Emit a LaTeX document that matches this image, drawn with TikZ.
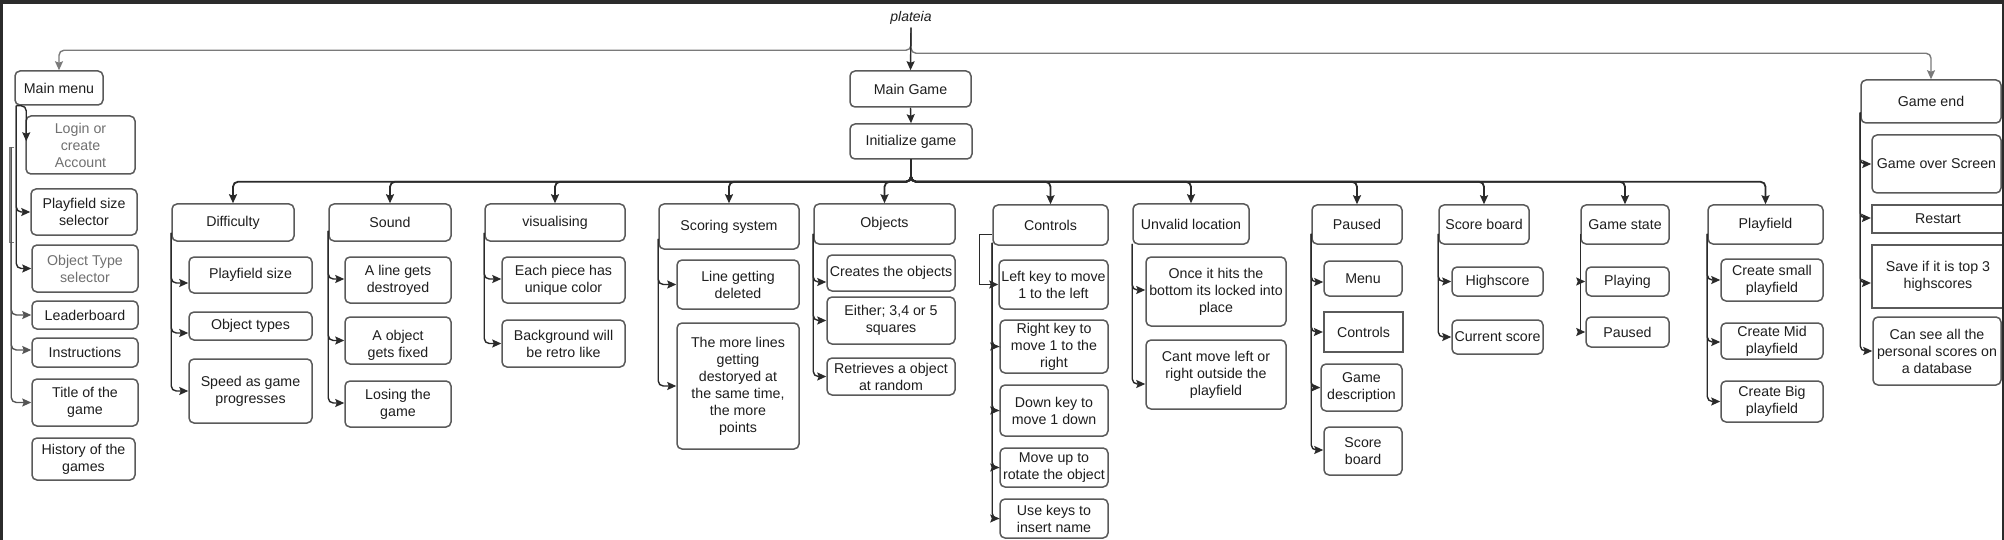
\documentclass[tikz,border=0pt]{standalone}
\usepackage{fontspec}
\setmainfont{Liberation Sans}
\usetikzlibrary{arrows.meta,calc}
\definecolor{boxc}{HTML}{5A5A5A}
\definecolor{linec}{HTML}{2A2A2A}
\definecolor{toplc}{HTML}{7A7A7A}
\definecolor{txt}{HTML}{1E1E1E}
\definecolor{lighttxt}{HTML}{707070}
\definecolor{framec}{HTML}{2B2B2B}
\newcommand{\dfont}{\fontsize{14.2pt}{17pt}\selectfont}
\begin{document}
\begin{tikzpicture}[x=1pt,y=-1pt,
  box/.style={draw=boxc, line width=1.5pt, rounded corners=5pt, inner sep=0pt, align=center, font=\dfont, text=txt, fill=white},
  sbox/.style={box, rounded corners=0pt, line width=2.2pt},
  wh/.style 2 args={minimum width=#1, minimum height=#2},
  gtxt/.style={text=lighttxt},
  conn/.style={draw=linec, line width=1.4pt, rounded corners=5pt, -{Stealth[length=9pt,width=8pt,inset=1.5pt]}},
  topconn/.style={conn, draw=toplc},
  busconn/.style={conn, line width=1.8pt},
  sharpconn/.style={conn, rounded corners=0pt},
]
\useasboundingbox (0,0) rectangle (2004,540);
\fill[white] (0,0) rectangle (2004,540);

% ---------- top level ----------
\node[inner sep=0pt, font=\fontsize{14pt}{16pt}\selectfont\itshape, text=txt] (plat) at (911,18) {plateia};
\node[box, wh={121}{36}] (mg) at (910.5,89) {Main Game};
\node[box, wh={122}{35}] (init) at (911,141.5) {Initialize game};
\node[box, wh={88}{34}] (mm) at (59,88) {Main menu};
\node[box, wh={140}{43}] (ge) at (1931,101.5) {Game end};
\coordinate (ptop) at ($(plat.south)+(0,3)$);
\coordinate (bus) at ($(init.south)+(0,22)$);

\draw[topconn] (ptop) |- ($(mm.north)+(0,-20)$) -- (mm.north);
\draw[topconn] (ptop) |- ($(ge.north)+(0,-26)$) -- (ge.north);
\draw[conn] (ptop) -- (mg.north);
\draw[conn] (mg.south) -- (init.north);

% ---------- main menu column ----------
\node[box, wh={109}{58}, gtxt] (login) at (80.5,145) {Login or\\create\\Account};
\node[box, wh={106}{46}] (pss) at (84,212) {Playfield size\\selector};
\node[box, wh={106}{47}, gtxt] (ots) at (85,268.5) {Object Type\\selector};
\node[box, wh={106}{28}] (lb) at (85,315) {Leaderboard};
\node[box, wh={106}{29}] (ins) at (85,352.5) {\raisebox{-6pt}{Instructions}};
\node[box, wh={106}{47}] (tog) at (85,402.5) {Title of the\\game};
\node[box, wh={103}{42}] (hist) at (83.5,459) {History of the\\games};
\coordinate (mmt) at ($(mm.south west)+(2,0)$);
\coordinate (mmj) at ($(mm.south west)+(-3,42)$);
\draw[line width=0.6pt, draw=toplc] ($(mmj)+(3,0)$) -- ++(-5,0) -- ++(0,95) -- ++(5,0);
\draw[conn] (mmt) -| ($(login.north west)+(1,26)$);
\draw[conn] (mmt) |- (pss.west);
\draw[conn] (mmt) |- (ots.west);
\draw[conn, draw=linec!80] (mmj) |- (lb.west);
\draw[conn, draw=linec!80] (mmj) |- ($(ins.west)+(0,-2.5)$);
\draw[conn, draw=linec!80] (mmj) |- (tog.west);

% ---------- heads ----------
\node[box, wh={122}{37}] (diff) at (233,222.5) {Difficulty};
\node[box, wh={122}{37}] (snd) at (390,222.5) {Sound};
\node[box, wh={140}{37}] (vis) at (555,222.5) {visualising};
\node[box, wh={140}{45}] (scr) at (729,226.5) {Scoring system};
\node[box, wh={141}{40}] (obj) at (884.5,224) {Objects};
\node[box, wh={115}{40}] (ctl) at (1050.5,225) {Controls};
\node[box, wh={116}{40}] (unv) at (1191,224) {Unvalid location};
\node[box, wh={90}{39}] (pau) at (1357,224.5) {Paused};
\node[box, wh={90}{39}] (sb) at (1484,224.5) {Score board};
\node[box, wh={88}{39}] (gs) at (1625,224.5) {Game state};
\node[box, wh={115}{39}] (pf) at (1765.5,224.5) {Playfield};

\foreach \h in {diff,snd,vis,scr,obj,ctl,unv,pau,sb,gs,pf}
  \draw[busconn] (init.south) -- (bus) -| (\h.north);

% ---------- Difficulty ----------
\node[box, wh={123}{36}] (dps) at (250.5,275) {Playfield size};
\node[box, wh={123}{28}] (dot) at (250.5,326) {Object types};
\node[box, wh={123}{64}] (dsp) at (250.5,391) {Speed as game\\progresses};
\coordinate (difft) at ($(diff.south west)+(0,-9)$);
\draw[conn] (difft) |- ($(dps.west)+(0,8)$);
\draw[conn] (difft) |- ($(dot.west)+(0,7)$);
\draw[conn] (difft) |- (dsp.west);

% ---------- Sound ----------
\node[box, wh={106}{46}] (s1) at (398,280) {A line gets\\destroyed};
\node[box, wh={106}{47}] (s2) at (398,340.5) {};
\node[inner sep=0pt, align=center, font=\dfont, text=txt] at ($(s2)+(0,5)$) {A object\\gets fixed};
\node[box, wh={106}{46}] (s3) at (398,404) {Losing the\\game};
\coordinate (sndt) at ($(snd.south west)+(0,-11)$);
\draw[conn] (sndt) |- ($(s1.west)+(0,-1)$);
\draw[conn] (sndt) |- (s2.west);
\draw[conn] (sndt) |- ($(s3.west)+(0,-1)$);

% ---------- visualising ----------
\node[box, wh={123}{46}] (v1) at (563.5,280) {Each piece has\\unique color};
\node[box, wh={123}{47}] (v2) at (563.5,343.5) {Background will\\be retro like};
\coordinate (vist) at ($(vis.south west)+(0,-9)$);
\draw[conn] (vist) |- ($(v1.west)+(0,-1)$);
\draw[conn] (vist) |- (v2.west);

% ---------- Scoring system ----------
\node[box, wh={122}{49}] (sc1) at (738,284.5) {Line getting\\deleted};
\node[box, wh={122}{126}] (sc2) at (738,386) {The more lines\\getting\\destoryed at\\the same time,\\the more\\points};
\coordinate (scrt) at ($(scr.south west)+(0,-11)$);
\draw[conn] (scrt) |- (sc1.west);
\draw[conn] (scrt) |- (sc2.west);

% ---------- Objects ----------
\node[box, wh={128}{36}] (o1) at (891,273) {Creates the objects};
\node[box, wh={128}{47}] (o2) at (891,320.5) {Either; 3,4 or 5\\squares};
\node[box, wh={128}{37}] (o3) at (891,376.5) {Retrieves a object\\at random};
\coordinate (objt) at ($(obj.south west)+(0,-11)$);
\draw[conn] (objt) |- ($(o1.west)+(0,9)$);
\draw[conn] (objt) |- (o2.west);
\draw[conn] (objt) |- (o3.west);

% ---------- Controls ----------
\node[box, wh={109}{49}] (k1) at (1053.5,284.5) {Left key to move\\1 to the left};
\node[box, wh={108}{53}] (k2) at (1054,346.5) {Right key to\\move 1 to the\\right};
\node[box, wh={108}{51}] (k3) at (1054,410.5) {Down key to\\move 1 down};
\node[box, wh={108}{39}] (k4) at (1054,467.5) {Move up to\\rotate the object};
\node[box, wh={108}{39}] (k5) at (1054,518.5) {Use keys to\\insert name};
\coordinate (ctlt) at ($(ctl.south west)+(0,-3)$);
\draw[sharpconn] ($(ctl.south west)+(0,-11)$) -- ++(-13,0) |- (k1.west);
\draw[conn] (ctlt) |- (k2.west);
\draw[conn] (ctlt) |- (k3.west);
\draw[conn] (ctlt) |- (k4.west);
\draw[conn] (ctlt) |- (k5.west);

% ---------- Unvalid location ----------
\node[box, wh={140}{69}] (u1) at (1216,291.5) {Once it hits the\\bottom its locked into\\place};
\node[box, wh={140}{69}] (u2) at (1216,374.5) {Cant move left or\\right outside the\\playfield};
\coordinate (unvt) at ($(unv.south west)+(0,-1)$);
\draw[conn] (unvt) |- ($(u1.west)+(0,-1.5)$);
\draw[conn] (unvt) |- ($(u2.west)+(0,9.5)$);

% ---------- Paused ----------
\node[box, wh={78}{35}] (p1) at (1363,278.5) {Menu};
\node[sbox, wh={79}{40}] (p2) at (1363.5,332) {Controls};
\node[box, wh={81}{47}] (p3) at (1361.5,387.5) {Game\\description};
\node[box, wh={78}{48}] (p4) at (1363,451) {Score\\board};
\coordinate (paut) at ($(pau.south west)+(0,-11)$);
\draw[conn] (paut) |- ($(p1.west)+(0,3.5)$);
\draw[conn] (paut) |- (p2.west);
\draw[conn] (paut) |- (p3.west);
\draw[conn] (paut) |- ($(p4.west)+(0,-1)$);

% ---------- Score board ----------
\node[box, wh={91}{29}] (h1) at (1497.5,281.5) {Highscore};
\node[box, wh={91}{34}] (h2) at (1497.5,337) {Current score};
\coordinate (sbt) at ($(sb.south west)+(0,-11)$);
\draw[conn] (sbt) |- (h1.west);
\draw[conn] (sbt) |- (h2.west);

% ---------- Game state ----------
\node[box, wh={83}{29}] (g1) at (1627.5,281.5) {Playing};
\node[box, wh={83}{30}] (g2) at (1627.5,332) {Paused};
\coordinate (gst) at ($(gs.south west)+(0,-11)$);
\draw[sharpconn] (gst) |- (g1.west);
\draw[sharpconn] (gst) |- (g2.west);

% ---------- Playfield ----------
\node[box, wh={102}{42}] (f1) at (1772,280) {Create small\\playfield};
\node[box, wh={102}{36}] (f2) at (1772,341) {Create Mid\\playfield};
\node[box, wh={102}{41}] (f3) at (1772,401.5) {Create Big\\playfield};
\coordinate (pft) at ($(pf.south west)+(0,-11)$);
\draw[conn] (pft) |- (f1.west);
\draw[conn] (pft) |- ($(f2.west)+(0,1)$);
\draw[conn] (pft) |- (f3.west);

% ---------- Game end ----------
\node[box, wh={129}{58}] (e1) at (1936.5,164) {Game over Screen};
\node[sbox, wh={132}{28}] (e2) at (1938,219) {Restart};
\node[sbox, wh={132}{63}] (e3) at (1938,276.5) {Save if it is top 3\\highscores};
\node[box, wh={128}{68}] (e4) at (1937,351) {Can see all the\\personal scores on\\a database};
\coordinate (get) at ($(ge.south west)+(0,-11)$);
\draw[conn] (get) |- (e1.west);
\draw[conn] (get) |- ($(e2.west)+(0,-1)$);
\draw[conn] (get) |- ($(e3.west)+(0,6.5)$);
\draw[conn] (get) |- (e4.west);

% ---------- dark frame ----------
\fill[framec] (0,0) rectangle (2004,4);
\fill[framec] (0,0) rectangle (3,540);
\fill[framec] (2002,0) rectangle (2004,540);
\end{tikzpicture}
\end{document}
